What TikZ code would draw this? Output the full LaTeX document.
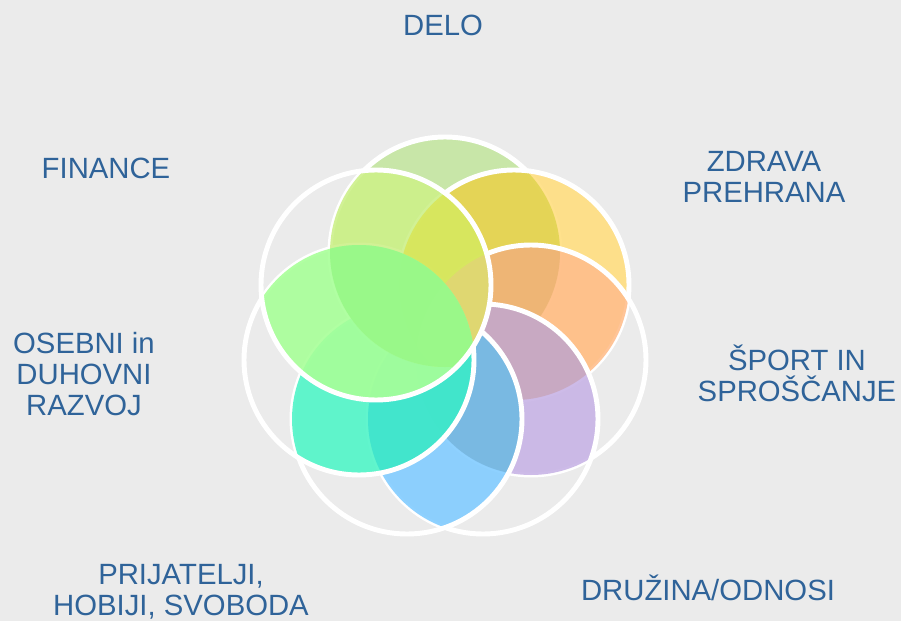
\documentclass[tikz,border=0pt]{standalone}
\usepackage{fontspec}
\setmainfont{Liberation Sans}
\usepackage{xcolor}

\definecolor{bggray}{HTML}{EBEBEB}
\definecolor{topicblue}{HTML}{2F6399}
\definecolor{delogreen}{HTML}{C8E6A8}
\definecolor{zdravayellow}{HTML}{FFDE80}
\definecolor{zdravaolive}{HTML}{E2D452}
\definecolor{sportorange}{HTML}{FFBE8C}
\definecolor{sportdark}{HTML}{EDB474}
\definecolor{druzinalilac}{HTML}{C8B4E6}
\definecolor{druzinamauve}{HTML}{C8A8C0}
\definecolor{prijblue}{HTML}{82CCFF}
\definecolor{prijdark}{HTML}{78B8E0}
\definecolor{osebniteal}{HTML}{50F5C8}
\definecolor{osebnidark}{HTML}{40E4CC}
\definecolor{finlime}{HTML}{CDF08A}
\definecolor{finkhaki}{HTML}{D8E65A}
\definecolor{finsand}{HTML}{E0D674}
\definecolor{finlight}{HTML}{A8FF98}
\definecolor{finmid}{HTML}{98F888}

\newcommand{\petalr}{115}

\begin{document}
\begin{tikzpicture}[x=0.3mm, y=-0.3mm,
    topic/.style={text=topicblue, font=\fontsize{25}{26.5}\selectfont, align=center, inner sep=0pt},
    ring/.style={draw=white, line width=4.2pt},
    tint/.style={fill=#1, fill opacity=0.9}]

    \fill[bggray] (0,0) rectangle (901,621);

    \coordinate (cdelo) at (445,252);
    \coordinate (czdrava) at (514,285);
    \coordinate (csport) at (531,360);
    \coordinate (cdruzina) at (483,419);
    \coordinate (cprij) at (407,419);
    \coordinate (cosebni) at (359,360);
    \coordinate (cfin) at (376,285);

    \fill[delogreen] (cdelo) circle (\petalr);
    \draw[ring] (cdelo) circle (\petalr);

    \fill[tint=zdravayellow] (czdrava) circle (\petalr);
    \begin{scope}
        \clip (cdelo) circle (\petalr);
        \fill[tint=zdravaolive] (czdrava) circle (\petalr);
    \end{scope}
    \draw[ring] (czdrava) circle (\petalr);

    \begin{scope}
        \clip (czdrava) circle (\petalr);
        \fill[tint=sportorange] (csport) circle (\petalr);
        \clip (cdelo) circle (\petalr);
        \fill[tint=sportdark] (csport) circle (\petalr);
    \end{scope}
    \draw[ring] (csport) circle (\petalr);

    \begin{scope}
        \clip (csport) circle (\petalr);
        \fill[tint=druzinalilac] (cdruzina) circle (\petalr);
        \clip (czdrava) circle (\petalr);
        \fill[tint=druzinamauve] (cdruzina) circle (\petalr);
    \end{scope}
    \draw[ring] (cdruzina) circle (\petalr);

    \begin{scope}
        \clip (cdruzina) circle (\petalr);
        \fill[tint=prijblue] (cprij) circle (\petalr);
        \clip (csport) circle (\petalr);
        \fill[tint=prijdark] (cprij) circle (\petalr);
    \end{scope}
    \draw[ring] (cprij) circle (\petalr);

    \begin{scope}
        \clip (cprij) circle (\petalr);
        \fill[tint=osebniteal] (cosebni) circle (\petalr);
        \clip (cdruzina) circle (\petalr);
        \fill[tint=osebnidark] (cosebni) circle (\petalr);
    \end{scope}
    \draw[ring] (cosebni) circle (\petalr);

    \begin{scope}
        \clip (cdelo) circle (\petalr);
        \fill[tint=finlime] (cfin) circle (\petalr);
        \clip (czdrava) circle (\petalr);
        \fill[tint=finkhaki] (cfin) circle (\petalr);
        \clip (csport) circle (\petalr);
        \fill[tint=finsand] (cfin) circle (\petalr);
    \end{scope}
    \begin{scope}
        \clip (cosebni) circle (\petalr);
        \fill[tint=finlight] (cfin) circle (\petalr);
        \clip (cdelo) circle (\petalr);
        \fill[tint=finmid] (cfin) circle (\petalr);
    \end{scope}
    \draw[ring] (cfin) circle (\petalr);

    \node[topic] (delo) at (443,25) {DELO};
    \node[topic] (zdrava) at (764,177) {ZDRAVA\\PREHRANA};
    \node[topic] (sport) at (797,373) {ŠPORT IN\\SPROŠČANJE};
    \node[topic] (druzina) at (708,588) {DRUŽINA/ODNOSI};
    \node[topic] (prijatelji) at (181,592) {PRIJATELJI,\\HOBIJI, SVOBODA};
    \node[topic] (osebni) at (84,374) {OSEBNI in\\DUHOVNI\\RAZVOJ};
    \node[topic] (finance) at (106,168) {FINANCE};
\end{tikzpicture}
\end{document}
